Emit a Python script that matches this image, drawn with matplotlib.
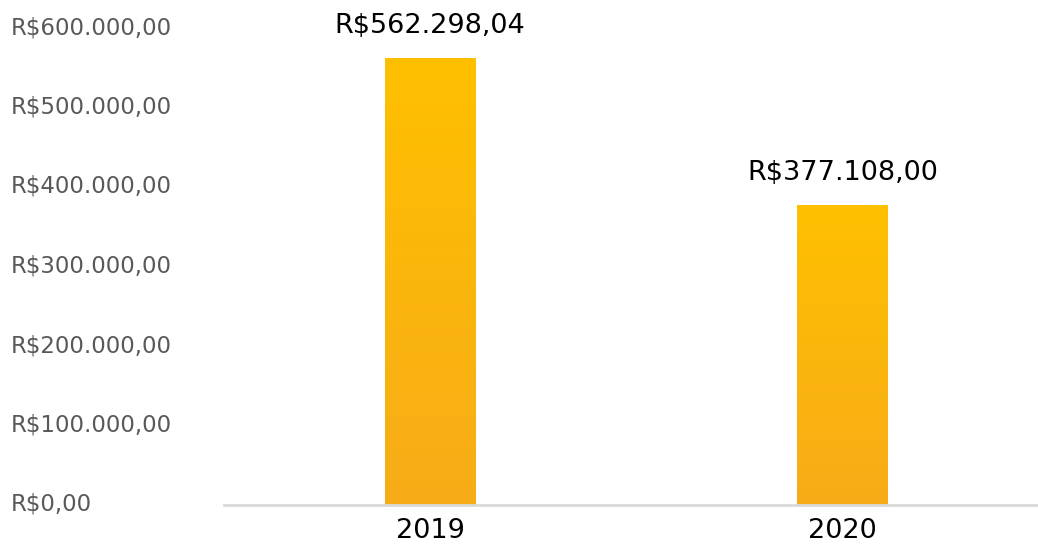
import matplotlib
matplotlib.use("Agg")
import matplotlib.pyplot as plt
import matplotlib.transforms as mtransforms
import numpy as np
from matplotlib.colors import LinearSegmentedColormap

categories = ["2019", "2020"]
values = [562298.04, 377108.00]
value_labels = ["R$562.298,04", "R$377.108,00"]
yticks = [0, 100000, 200000, 300000, 400000, 500000, 600000]
ytick_labels = ["R$0,00", "R$100.000,00", "R$200.000,00", "R$300.000,00",
                "R$400.000,00", "R$500.000,00", "R$600.000,00"]

W, H = 1038, 548
fig = plt.figure(figsize=(W / 100, H / 100), dpi=100)
ax = fig.add_axes([224 / W, (H - 505) / H, (W - 224) / W, (505 - 28) / H])

x = np.arange(len(categories))
bars = ax.bar(x, values, width=0.22, color="none", zorder=2)

cmap = LinearSegmentedColormap.from_list("g", ["#F7AC18", "#FFC000"])
grad = np.linspace(0, 1, 256).reshape(-1, 1)
for b in bars:
    x0, y0 = b.get_x(), b.get_y()
    w, h = b.get_width(), b.get_height()
    im = ax.imshow(grad, extent=[x0, x0 + w, y0, y0 + h], origin="lower",
                   aspect="auto", cmap=cmap, zorder=2)
    im.set_clip_path(b)

for xi, v, lab in zip(x, values, value_labels):
    ax.annotate(lab, (xi, v), xytext=(0, 14), textcoords="offset points",
                ha="center", va="bottom", fontsize=19.5, color="#000000")

ax.set_xlim(-0.5, (W - 430.5) / 412)
ax.set_ylim(0, 600000)
ax.set_xticks(x)
ax.set_xticklabels(categories, fontsize=19.5, color="#000000")
ax.set_yticks(yticks)
ax.set_yticklabels(ytick_labels, fontsize=16.5, color="#595959", ha="left")
ax.tick_params(axis="y", length=0, pad=(224 - 11) * 0.72)
ax.tick_params(axis="x", length=0, pad=9)

offset = mtransforms.ScaledTranslation(0, 3 / 100, fig.dpi_scale_trans)
for lbl in ax.get_yticklabels():
    lbl.set_transform(lbl.get_transform() + offset)

for s in ["top", "right", "left"]:
    ax.spines[s].set_visible(False)
ax.spines["bottom"].set_color("#D9D9D9")
ax.spines["bottom"].set_linewidth(2)
ax.spines["bottom"].set_zorder(3)

fig.savefig("out.png", dpi=100)
